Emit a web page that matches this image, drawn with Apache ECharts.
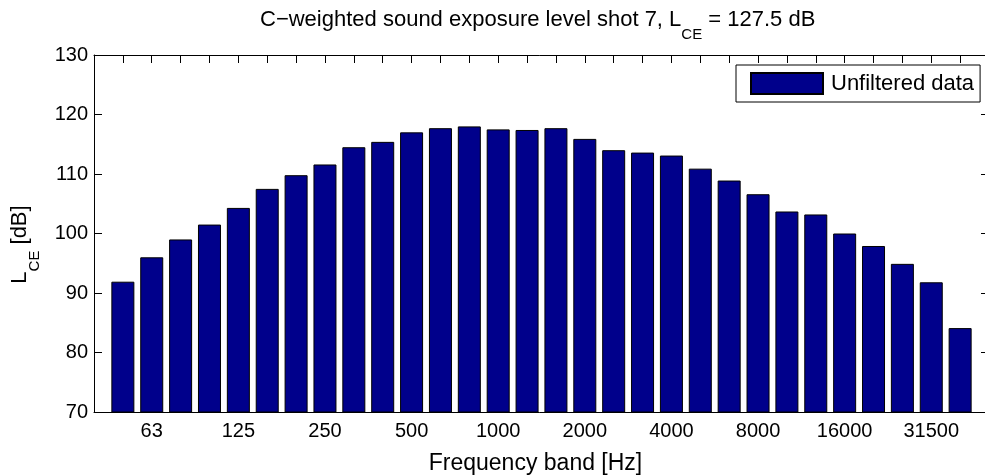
<!DOCTYPE html>
<html><head><meta charset="utf-8">
<script src="https://cdn.jsdelivr.net/npm/echarts@6/dist/echarts.min.js"></script>
<style>html,body{margin:0;padding:0;background:#fff}#c{width:985px;height:476px}</style>
</head><body><div id="c"></div>
<script>
const categories = ['50','63','80','100','125','160','200','250','315','400','500','630','800','1000','1250','1600','2000','2500','3150','4000','5000','6300','8000','10000','12500','16000','20000','25000','31500','40000'];
const values = [91.9,96.0,99.0,101.5,104.3,107.5,109.8,111.6,114.5,115.4,117.0,117.7,118.0,117.5,117.4,117.7,115.9,114.0,113.6,113.1,110.9,108.9,106.6,103.7,103.2,100.0,97.9,94.9,91.8,84.1];
const tickLabels = ['63','125','250','500','1000','2000','4000','8000','16000','31500'];
const yTicks = [70,80,90,100,110,120,130];

const font = 'Liberation Sans';
const data = values.map((v,i)=>[i+1,v]);
const chart = echarts.init(document.getElementById('c'));
const axisCommon = {
  axisLine:{show:true,onZero:false,lineStyle:{color:'#000',width:1}},
  splitLine:{show:false}
};
const tickStyle = {show:true,inside:true,length:8,lineStyle:{color:'#000'}};
const subRich = {
  m:{fontFamily:font,fontSize:22,color:'#000',lineHeight:24,verticalAlign:'top'},
  s:{fontFamily:font,fontSize:15,color:'#000',lineHeight:33,verticalAlign:'bottom'}
};
chart.setOption({
  animation:false,
  backgroundColor:'#fff',
  title:{
    text:'{m|C\u2212weighted sound exposure level shot 7, L}{s|CE}{m| = 127.5 dB}',
    left:255, top:4,
    textStyle:{fontFamily:font,fontSize:22,fontWeight:'normal',color:'#000',rich:subRich}
  },
  legend:{
    data:['Unfiltered data'],
    left:736, top:65,
    padding:[7,6,7,14],
    itemWidth:72, itemHeight:21,
    icon:'rect',
    borderColor:'#000', borderWidth:1, backgroundColor:'#fff',
    textStyle:{fontFamily:font,fontSize:22,color:'#000',padding:[0,0,0,3]}
  },
  grid:{left:94,right:-4,top:55,bottom:64,containLabel:false,outerBoundsMode:'none'},
  xAxis:[{
    type:'value',min:0,max:31,interval:1,position:'bottom',
    ...axisCommon,
    axisTick:tickStyle,
    axisLabel:{fontFamily:font,fontSize:20,color:'#000',margin:9,
      formatter:function(v){const c=categories[v-1];return (c && tickLabels.indexOf(c)>=0)?c:'';}},
    name:'Frequency band [Hz]',nameLocation:'middle',nameGap:40,
    nameTextStyle:{fontFamily:font,fontSize:23,color:'#000',padding:[0,12,0,0]}
  },{
    type:'value',min:0,max:31,interval:1,position:'top',
    ...axisCommon,
    axisTick:tickStyle,
    axisLabel:{show:false}
  }],
  yAxis:[{
    type:'value',min:yTicks[0],max:yTicks[yTicks.length-1],interval:10,position:'left',
    ...axisCommon,
    axisTick:tickStyle,
    axisLabel:{fontFamily:font,fontSize:20,color:'#000',margin:6},
    name:'{m|L}{s|CE}{m| [dB]}',nameLocation:'middle',nameGap:52,nameRotate:90,
    nameTextStyle:{fontFamily:font,fontSize:22,color:'#000',padding:[0,22,0,0],rich:subRich}
  },{
    type:'value',min:yTicks[0],max:yTicks[yTicks.length-1],interval:10,position:'right',
    ...axisCommon,
    axisTick:tickStyle,
    axisLabel:{show:false}
  }],
  series:[{
    name:'Unfiltered data',type:'bar',data:data,barWidth:23,
    xAxisIndex:0,yAxisIndex:0,
    itemStyle:{color:'#00008B',borderColor:'#000',borderWidth:1}
  }]
});
</script></body></html>
